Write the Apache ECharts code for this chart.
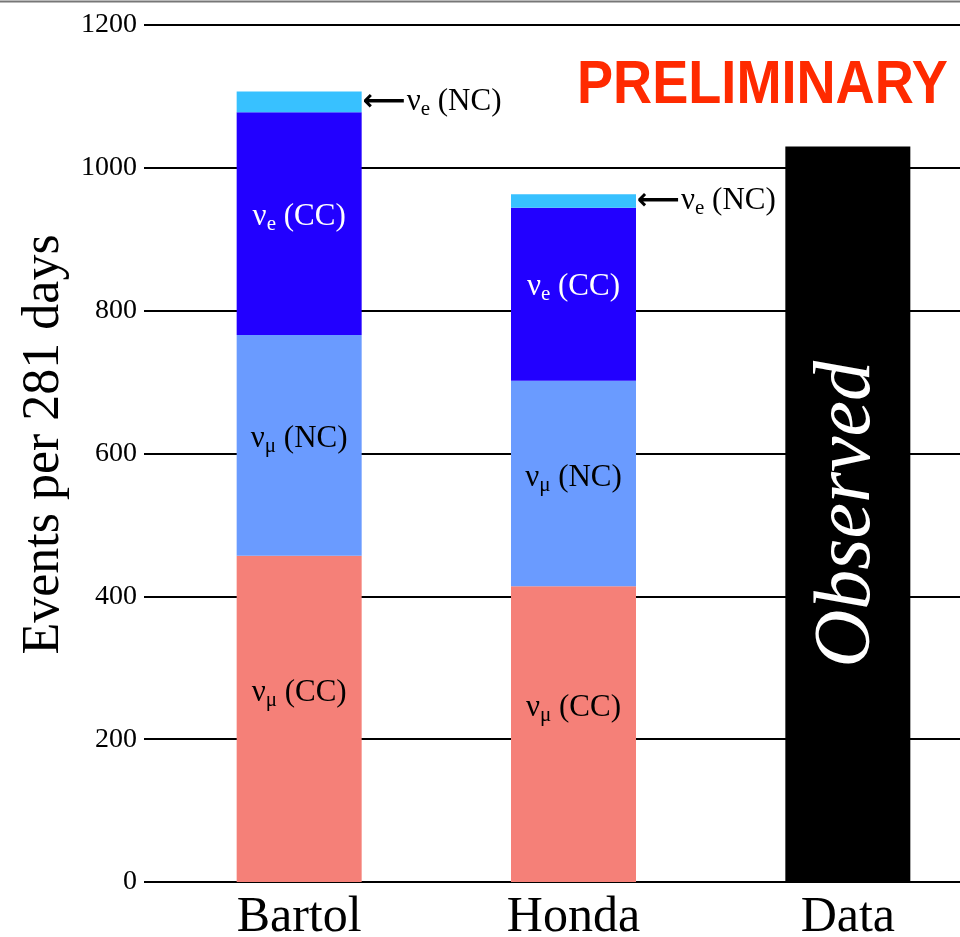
<!DOCTYPE html>
<html><head><meta charset="utf-8">
<script src="https://cdn.jsdelivr.net/npm/echarts@6/dist/echarts.min.js"></script>
<style>html,body{margin:0;padding:0;background:#fff}#c{width:960px;height:937px}</style>
</head><body><div id="c"></div>
<script>
// ---- data ----
const categories = ['Bartol', 'Honda', 'Data'];
const numuCC = [457, 414, null];
const numuNC = [309, 288, null];
const nueCC  = [312, 242, null];
const nueNC  = [29, 19, null];
const observed = [null, null, 1030];
const yMin = 0, yMax = 1200, yInterval = 200;
const yTitle = 'Events per 281 days';
const stampText = 'PRELIMINARY';

const SERIF = "'Liberation Serif','Times New Roman',serif";
const rich = function (color) {
  return {
    g: {fontFamily: SERIF, fontSize: 31, color: color, lineHeight: 36, verticalAlign: 'middle'},
    s: {fontFamily: SERIF, fontSize: 21, color: color, lineHeight: 36, verticalAlign: 'bottom'},
    a: {fontFamily: "'DejaVu Sans',sans-serif", fontSize: 30, fontWeight: 'bold', color: '#000', lineHeight: 36, padding: [0, 1, 0, 0]}
  };
};
function lbl(sym, sub, kind, arrow) {
  return (arrow ? '{a|⟵}' : '') + '{g|' + sym + '}{s|' + sub + '}{g| (' + kind + ')}';
}

const chart = echarts.init(document.getElementById('c'), null, {renderer: 'canvas'});
chart.setOption({
  animation: false,
  backgroundColor: '#fff',
  graphic: [
    {type: 'line', shape: {x1: 0, y1: 1.5, x2: 960, y2: 1.5}, style: {stroke: '#777', lineWidth: 2}},
    {type: 'text', x: 577, y: 54.5, scaleX: 0.873,
      style: {text: stampText, fontFamily: "'Liberation Sans',Arial,sans-serif", fontWeight: 'bold',
        fontSize: 62, fill: '#FF2A00', verticalAlign: 'top'}}
  ],
  grid: {left: 162, top: 25, width: 823, height: 857, outerBoundsMode: 'none', containLabel: false},
  xAxis: {
    type: 'category', data: categories,
    axisLine: {lineStyle: {color: '#000', width: 2}},
    axisTick: {show: false},
    axisLabel: {fontFamily: SERIF, fontSize: 50, color: '#000', margin: 11}
  },
  yAxis: {
    type: 'value', min: yMin, max: yMax, interval: yInterval,
    name: yTitle, nameLocation: 'middle', nameRotate: 90, nameGap: 73,
    nameTextStyle: {fontFamily: SERIF, fontSize: 52, color: '#000', padding: [0, 0, 0, 18]},
    axisLine: {show: false},
    axisTick: {show: true, length: 18, lineStyle: {color: '#000', width: 2}},
    axisLabel: {fontFamily: SERIF, fontSize: 28, color: '#000', margin: 25, formatter: function (v) { return String(v); }},
    splitLine: {lineStyle: {color: '#000', width: 2}}
  },
  series: [
    {name: 'νμ (CC)', type: 'bar', stack: 'all', barWidth: 125, data: numuCC,
      itemStyle: {color: '#F58078'},
      label: {show: true, position: 'inside', offset: [0, -26], formatter: lbl('ν', 'μ', 'CC'), rich: rich('#000')}},
    {name: 'νμ (NC)', type: 'bar', stack: 'all', barWidth: 125, data: numuNC,
      itemStyle: {color: '#6A9BFF'},
      label: {show: true, position: 'inside', offset: [0, -6], formatter: lbl('ν', 'μ', 'NC'), rich: rich('#000')}},
    {name: 'νe (CC)', type: 'bar', stack: 'all', barWidth: 125, data: nueCC,
      itemStyle: {color: '#2200FF'},
      label: {show: true, position: 'inside', offset: [0, -7], formatter: lbl('ν', 'e', 'CC'), rich: rich('#fff')}},
    {name: 'νe (NC)', type: 'bar', stack: 'all', barWidth: 125, data: nueNC,
      itemStyle: {color: '#38C1FF'},
      label: {show: true, position: 'right', distance: 1, formatter: lbl('ν', 'e', 'NC', true), rich: rich('#000')}},
    {name: 'Data', type: 'bar', stack: 'all', barWidth: 125, data: observed,
      itemStyle: {color: '#000'},
      label: {show: true, position: 'inside', rotate: 90, formatter: 'Observed',
        fontFamily: SERIF, fontStyle: 'italic', fontSize: 80, color: '#fff'}}
  ]
});
</script>
</body></html>
